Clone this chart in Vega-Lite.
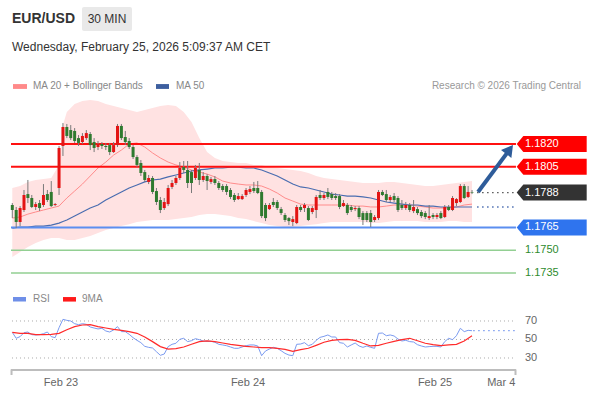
{
"$schema": "https://vega.github.io/schema/vega-lite/v6.json",
"width": 590, "height": 400,
"autosize": {"type": "fit", "contains": "padding"},
"padding": 0,
"background": "#f3f3f3",
"config": {"view": {"stroke": null, "fill": "#ffffff"}, "font": "Liberation Sans", "text": {"font": "Liberation Sans"}},
"datasets": {
"candles": [
{"t":-6.25,"o":1.17798,"h":1.17811,"l":1.17712,"c":1.17765},
{"t":-5.75,"o":1.17765,"h":1.17785,"l":1.17646,"c":1.17686},
{"t":-5.25,"o":1.17686,"h":1.17791,"l":1.17659,"c":1.17778},
{"t":-4.75,"o":1.17765,"h":1.17897,"l":1.17752,"c":1.17864},
{"t":-4.25,"o":1.17870,"h":1.17963,"l":1.17811,"c":1.17844},
{"t":-3.75,"o":1.17844,"h":1.17864,"l":1.17778,"c":1.17785},
{"t":-3.25,"o":1.17785,"h":1.17818,"l":1.17765,"c":1.17804},
{"t":-2.75,"o":1.17811,"h":1.17831,"l":1.17758,"c":1.17778},
{"t":-2.25,"o":1.17798,"h":1.17936,"l":1.17785,"c":1.17864},
{"t":-1.75,"o":1.17870,"h":1.17897,"l":1.17818,"c":1.17831},
{"t":-1.25,"o":1.17884,"h":1.17956,"l":1.17785,"c":1.17791},
{"t":-0.75,"o":1.17798,"h":1.17811,"l":1.17791,"c":1.17804},
{"t":-0.25,"o":1.17910,"h":1.18187,"l":1.17864,"c":1.18174},
{"t":0.25,"o":1.18187,"h":1.18338,"l":1.18121,"c":1.18312},
{"t":0.75,"o":1.18312,"h":1.18332,"l":1.18239,"c":1.18253},
{"t":1.25,"o":1.18292,"h":1.18325,"l":1.18226,"c":1.18239},
{"t":1.75,"o":1.18286,"h":1.18305,"l":1.18207,"c":1.18220},
{"t":2.25,"o":1.18239,"h":1.18259,"l":1.18187,"c":1.18207},
{"t":2.75,"o":1.18213,"h":1.18272,"l":1.18200,"c":1.18253},
{"t":3.25,"o":1.18239,"h":1.18292,"l":1.18226,"c":1.18272},
{"t":3.75,"o":1.18266,"h":1.18279,"l":1.18160,"c":1.18193},
{"t":4.25,"o":1.18213,"h":1.18239,"l":1.18147,"c":1.18174},
{"t":4.75,"o":1.18180,"h":1.18220,"l":1.18160,"c":1.18200},
{"t":5.25,"o":1.18200,"h":1.18213,"l":1.18167,"c":1.18187},
{"t":5.75,"o":1.18187,"h":1.18207,"l":1.18160,"c":1.18180},
{"t":6.25,"o":1.18193,"h":1.18207,"l":1.18127,"c":1.18147},
{"t":6.75,"o":1.18147,"h":1.18213,"l":1.18141,"c":1.18193},
{"t":7.25,"o":1.18193,"h":1.18332,"l":1.18180,"c":1.18319},
{"t":7.75,"o":1.18319,"h":1.18332,"l":1.18226,"c":1.18239},
{"t":8.25,"o":1.18246,"h":1.18286,"l":1.18193,"c":1.18213},
{"t":8.75,"o":1.18220,"h":1.18239,"l":1.18167,"c":1.18180},
{"t":9.25,"o":1.18180,"h":1.18193,"l":1.18101,"c":1.18114},
{"t":9.75,"o":1.18114,"h":1.18127,"l":1.18048,"c":1.18062},
{"t":10.25,"o":1.18075,"h":1.18094,"l":1.17989,"c":1.18009},
{"t":10.75,"o":1.18015,"h":1.18029,"l":1.17950,"c":1.17963},
{"t":11.25,"o":1.17950,"h":1.17996,"l":1.17936,"c":1.17976},
{"t":11.75,"o":1.17976,"h":1.17989,"l":1.17870,"c":1.17884},
{"t":12.25,"o":1.17890,"h":1.17910,"l":1.17798,"c":1.17818},
{"t":12.75,"o":1.17831,"h":1.17851,"l":1.17745,"c":1.17765},
{"t":13.25,"o":1.17778,"h":1.17844,"l":1.17765,"c":1.17818},
{"t":13.75,"o":1.17804,"h":1.17930,"l":1.17791,"c":1.17910},
{"t":14.25,"o":1.17917,"h":1.17963,"l":1.17903,"c":1.17943},
{"t":14.75,"o":1.17943,"h":1.17989,"l":1.17930,"c":1.17976},
{"t":15.25,"o":1.17976,"h":1.18081,"l":1.17963,"c":1.18042},
{"t":15.75,"o":1.18048,"h":1.18088,"l":1.18009,"c":1.18029},
{"t":16.25,"o":1.18029,"h":1.18088,"l":1.17910,"c":1.17943},
{"t":16.75,"o":1.18015,"h":1.18029,"l":1.17877,"c":1.17943},
{"t":17.25,"o":1.17976,"h":1.18062,"l":1.17963,"c":1.18042},
{"t":17.75,"o":1.18029,"h":1.18075,"l":1.17930,"c":1.17963},
{"t":18.25,"o":1.17963,"h":1.18015,"l":1.17950,"c":1.17989},
{"t":18.75,"o":1.17989,"h":1.18002,"l":1.17897,"c":1.17956},
{"t":19.25,"o":1.17950,"h":1.17983,"l":1.17936,"c":1.17969},
{"t":19.75,"o":1.17969,"h":1.17989,"l":1.17930,"c":1.17943},
{"t":20.25,"o":1.17943,"h":1.17956,"l":1.17897,"c":1.17910},
{"t":20.75,"o":1.17923,"h":1.17936,"l":1.17884,"c":1.17897},
{"t":21.25,"o":1.17923,"h":1.17936,"l":1.17864,"c":1.17884},
{"t":21.75,"o":1.17897,"h":1.17910,"l":1.17837,"c":1.17851},
{"t":22.25,"o":1.17864,"h":1.17877,"l":1.17818,"c":1.17831},
{"t":22.75,"o":1.17837,"h":1.17877,"l":1.17831,"c":1.17857},
{"t":23.25,"o":1.17837,"h":1.17870,"l":1.17831,"c":1.17857},
{"t":23.75,"o":1.17864,"h":1.17910,"l":1.17851,"c":1.17897},
{"t":24.25,"o":1.17884,"h":1.17923,"l":1.17870,"c":1.17903},
{"t":24.75,"o":1.17910,"h":1.17950,"l":1.17877,"c":1.17890},
{"t":25.25,"o":1.17910,"h":1.17956,"l":1.17870,"c":1.17877},
{"t":25.75,"o":1.17884,"h":1.17897,"l":1.17712,"c":1.17725},
{"t":26.25,"o":1.17798,"h":1.17811,"l":1.17692,"c":1.17712},
{"t":26.75,"o":1.17771,"h":1.17811,"l":1.17765,"c":1.17798},
{"t":27.25,"o":1.17818,"h":1.17844,"l":1.17785,"c":1.17798},
{"t":27.75,"o":1.17818,"h":1.17831,"l":1.17765,"c":1.17778},
{"t":28.25,"o":1.17771,"h":1.17785,"l":1.17732,"c":1.17745},
{"t":28.75,"o":1.17732,"h":1.17745,"l":1.17686,"c":1.17699},
{"t":29.25,"o":1.17712,"h":1.17719,"l":1.17666,"c":1.17692},
{"t":29.75,"o":1.17686,"h":1.17725,"l":1.17659,"c":1.17705},
{"t":30.25,"o":1.17679,"h":1.17798,"l":1.17672,"c":1.17785},
{"t":30.75,"o":1.17785,"h":1.17798,"l":1.17752,"c":1.17765},
{"t":31.25,"o":1.17778,"h":1.17811,"l":1.17752,"c":1.17798},
{"t":31.75,"o":1.17778,"h":1.17791,"l":1.17692,"c":1.17699},
{"t":32.25,"o":1.17752,"h":1.17791,"l":1.17738,"c":1.17778},
{"t":32.75,"o":1.17765,"h":1.17864,"l":1.17712,"c":1.17851},
{"t":33.25,"o":1.17864,"h":1.17897,"l":1.17831,"c":1.17844},
{"t":33.75,"o":1.17844,"h":1.17877,"l":1.17831,"c":1.17864},
{"t":34.25,"o":1.17884,"h":1.17910,"l":1.17837,"c":1.17851},
{"t":34.75,"o":1.17870,"h":1.17884,"l":1.17831,"c":1.17844},
{"t":35.25,"o":1.17857,"h":1.17877,"l":1.17831,"c":1.17844},
{"t":35.75,"o":1.17857,"h":1.17870,"l":1.17771,"c":1.17785},
{"t":36.25,"o":1.17791,"h":1.17831,"l":1.17785,"c":1.17811},
{"t":36.75,"o":1.17798,"h":1.17811,"l":1.17732,"c":1.17745},
{"t":37.25,"o":1.17785,"h":1.17798,"l":1.17752,"c":1.17765},
{"t":37.75,"o":1.17771,"h":1.17791,"l":1.17758,"c":1.17778},
{"t":38.25,"o":1.17778,"h":1.17791,"l":1.17705,"c":1.17719},
{"t":38.75,"o":1.17745,"h":1.17758,"l":1.17666,"c":1.17699},
{"t":39.25,"o":1.17745,"h":1.17758,"l":1.17686,"c":1.17699},
{"t":39.75,"o":1.17745,"h":1.17765,"l":1.17653,"c":1.17686},
{"t":40.25,"o":1.17699,"h":1.17732,"l":1.17686,"c":1.17719},
{"t":40.75,"o":1.17712,"h":1.17897,"l":1.17699,"c":1.17884},
{"t":41.25,"o":1.17884,"h":1.17897,"l":1.17857,"c":1.17864},
{"t":41.75,"o":1.17870,"h":1.17897,"l":1.17818,"c":1.17831},
{"t":42.25,"o":1.17831,"h":1.17864,"l":1.17818,"c":1.17851},
{"t":42.75,"o":1.17857,"h":1.17877,"l":1.17818,"c":1.17831},
{"t":43.25,"o":1.17844,"h":1.17857,"l":1.17752,"c":1.17765},
{"t":43.75,"o":1.17798,"h":1.17831,"l":1.17765,"c":1.17778},
{"t":44.25,"o":1.17778,"h":1.17818,"l":1.17765,"c":1.17798},
{"t":44.75,"o":1.17798,"h":1.17811,"l":1.17752,"c":1.17765},
{"t":45.25,"o":1.17758,"h":1.17831,"l":1.17745,"c":1.17785},
{"t":45.75,"o":1.17771,"h":1.17785,"l":1.17732,"c":1.17745},
{"t":46.25,"o":1.17752,"h":1.17765,"l":1.17712,"c":1.17725},
{"t":46.75,"o":1.17745,"h":1.17758,"l":1.17705,"c":1.17719},
{"t":47.25,"o":1.17712,"h":1.17798,"l":1.17699,"c":1.17725},
{"t":47.75,"o":1.17732,"h":1.17745,"l":1.17705,"c":1.17719},
{"t":48.25,"o":1.17719,"h":1.17745,"l":1.17705,"c":1.17732},
{"t":48.75,"o":1.17745,"h":1.17758,"l":1.17705,"c":1.17712},
{"t":49.25,"o":1.17719,"h":1.17798,"l":1.17712,"c":1.17785},
{"t":49.75,"o":1.17785,"h":1.17798,"l":1.17758,"c":1.17765},
{"t":50.25,"o":1.17765,"h":1.17857,"l":1.17758,"c":1.17844},
{"t":50.75,"o":1.17811,"h":1.17844,"l":1.17791,"c":1.17837},
{"t":51.25,"o":1.17818,"h":1.17936,"l":1.17811,"c":1.17923},
{"t":51.75,"o":1.17923,"h":1.17936,"l":1.17837,"c":1.17844},
{"t":52.25,"o":1.17851,"h":1.17923,"l":1.17844,"c":1.17884},
{"t":52.75,"o":1.17884,"h":1.17897,"l":1.17870,"c":1.17880}
],
"ind": [
{"t":-6.25,"up":1.17910,"lo":1.17455,"ma20":1.17712,"ma50":1.17646},
{"t":-5.25,"up":1.17923,"lo":1.17488,"ma20":1.17719,"ma50":1.17653},
{"t":-4.25,"up":1.17950,"lo":1.17521,"ma20":1.17738,"ma50":1.17653},
{"t":-3.25,"up":1.17963,"lo":1.17548,"ma20":1.17752,"ma50":1.17659},
{"t":-2.25,"up":1.17969,"lo":1.17567,"ma20":1.17765,"ma50":1.17659},
{"t":-1.25,"up":1.17976,"lo":1.17581,"ma20":1.17778,"ma50":1.17666},
{"t":-0.25,"up":1.18062,"lo":1.17581,"ma20":1.17791,"ma50":1.17679},
{"t":0.25,"up":1.18325,"lo":1.17574,"ma20":1.17818,"ma50":1.17689},
{"t":0.75,"up":1.18411,"lo":1.17567,"ma20":1.17844,"ma50":1.17699},
{"t":1.75,"up":1.18464,"lo":1.17567,"ma20":1.17890,"ma50":1.17725},
{"t":2.75,"up":1.18483,"lo":1.17581,"ma20":1.17936,"ma50":1.17752},
{"t":3.75,"up":1.18490,"lo":1.17594,"ma20":1.17989,"ma50":1.17778},
{"t":4.75,"up":1.18483,"lo":1.17614,"ma20":1.18042,"ma50":1.17798},
{"t":5.75,"up":1.18464,"lo":1.17633,"ma20":1.18081,"ma50":1.17831},
{"t":6.75,"up":1.18450,"lo":1.17646,"ma20":1.18127,"ma50":1.17857},
{"t":7.75,"up":1.18437,"lo":1.17659,"ma20":1.18160,"ma50":1.17884},
{"t":8.75,"up":1.18424,"lo":1.17672,"ma20":1.18200,"ma50":1.17910},
{"t":9.75,"up":1.18411,"lo":1.17686,"ma20":1.18207,"ma50":1.17930},
{"t":10.75,"up":1.18424,"lo":1.17692,"ma20":1.18180,"ma50":1.17950},
{"t":11.75,"up":1.18437,"lo":1.17699,"ma20":1.18141,"ma50":1.17963},
{"t":12.75,"up":1.18450,"lo":1.17699,"ma20":1.18108,"ma50":1.17969},
{"t":13.75,"up":1.18457,"lo":1.17699,"ma20":1.18081,"ma50":1.17983},
{"t":14.75,"up":1.18450,"lo":1.17705,"ma20":1.18062,"ma50":1.17996},
{"t":15.75,"up":1.18411,"lo":1.17712,"ma20":1.18048,"ma50":1.18009},
{"t":16.75,"up":1.18345,"lo":1.17719,"ma20":1.18029,"ma50":1.18022},
{"t":17.75,"up":1.18239,"lo":1.17732,"ma20":1.18015,"ma50":1.18029},
{"t":18.75,"up":1.18147,"lo":1.17738,"ma20":1.18002,"ma50":1.18035},
{"t":19.75,"up":1.18108,"lo":1.17738,"ma20":1.17983,"ma50":1.18042},
{"t":20.75,"up":1.18088,"lo":1.17732,"ma20":1.17956,"ma50":1.18042},
{"t":21.75,"up":1.18081,"lo":1.17725,"ma20":1.17943,"ma50":1.18048},
{"t":22.75,"up":1.18075,"lo":1.17712,"ma20":1.17936,"ma50":1.18048},
{"t":23.75,"up":1.18075,"lo":1.17705,"ma20":1.17930,"ma50":1.18042},
{"t":24.75,"up":1.18062,"lo":1.17692,"ma20":1.17930,"ma50":1.18042},
{"t":25.75,"up":1.18062,"lo":1.17679,"ma20":1.17923,"ma50":1.18029},
{"t":26.75,"up":1.18048,"lo":1.17666,"ma20":1.17903,"ma50":1.18009},
{"t":27.75,"up":1.18042,"lo":1.17659,"ma20":1.17877,"ma50":1.17989},
{"t":28.75,"up":1.18035,"lo":1.17653,"ma20":1.17844,"ma50":1.17963},
{"t":29.75,"up":1.18029,"lo":1.17653,"ma20":1.17824,"ma50":1.17936},
{"t":30.75,"up":1.18022,"lo":1.17659,"ma20":1.17804,"ma50":1.17917},
{"t":31.75,"up":1.18009,"lo":1.17666,"ma20":1.17798,"ma50":1.17910},
{"t":32.75,"up":1.17989,"lo":1.17672,"ma20":1.17798,"ma50":1.17897},
{"t":33.75,"up":1.17976,"lo":1.17679,"ma20":1.17798,"ma50":1.17884},
{"t":34.75,"up":1.17969,"lo":1.17686,"ma20":1.17798,"ma50":1.17870},
{"t":35.75,"up":1.17963,"lo":1.17686,"ma20":1.17798,"ma50":1.17864},
{"t":36.75,"up":1.17956,"lo":1.17686,"ma20":1.17798,"ma50":1.17857},
{"t":37.75,"up":1.17950,"lo":1.17686,"ma20":1.17791,"ma50":1.17857},
{"t":38.75,"up":1.17943,"lo":1.17686,"ma20":1.17791,"ma50":1.17851},
{"t":39.75,"up":1.17943,"lo":1.17679,"ma20":1.17785,"ma50":1.17844},
{"t":40.75,"up":1.17943,"lo":1.17679,"ma20":1.17785,"ma50":1.17831},
{"t":41.75,"up":1.17950,"lo":1.17686,"ma20":1.17791,"ma50":1.17818},
{"t":42.75,"up":1.17950,"lo":1.17692,"ma20":1.17798,"ma50":1.17811},
{"t":43.75,"up":1.17943,"lo":1.17692,"ma20":1.17798,"ma50":1.17804},
{"t":44.75,"up":1.17936,"lo":1.17692,"ma20":1.17798,"ma50":1.17798},
{"t":45.75,"up":1.17930,"lo":1.17692,"ma20":1.17791,"ma50":1.17798},
{"t":46.75,"up":1.17923,"lo":1.17686,"ma20":1.17785,"ma50":1.17791},
{"t":47.75,"up":1.17923,"lo":1.17686,"ma20":1.17778,"ma50":1.17791},
{"t":48.75,"up":1.17930,"lo":1.17686,"ma20":1.17778,"ma50":1.17785},
{"t":49.75,"up":1.17936,"lo":1.17692,"ma20":1.17778,"ma50":1.17785},
{"t":50.75,"up":1.17943,"lo":1.17692,"ma20":1.17785,"ma50":1.17785},
{"t":51.75,"up":1.17950,"lo":1.17686,"ma20":1.17798,"ma50":1.17785},
{"t":52.75,"up":1.17956,"lo":1.17686,"ma20":1.17804,"ma50":1.17785}
],
"rsi": [
{"t":-6.25,"rsi":57.7},{"t":-5.75,"rsi":51.3},{"t":-5.25,"rsi":53.1},{"t":-4.75,"rsi":57.4},{"t":-4.25,"rsi":58.1},
{"t":-3.75,"rsi":55.2},{"t":-3.25,"rsi":54.9},{"t":-2.75,"rsi":55.2},{"t":-2.25,"rsi":56.3},{"t":-1.75,"rsi":58.1},
{"t":-1.25,"rsi":53.1},{"t":-0.75,"rsi":52.0},{"t":-0.25,"rsi":62.8},{"t":0.25,"rsi":71.8},{"t":0.75,"rsi":70.7},
{"t":1.25,"rsi":70.0},{"t":1.75,"rsi":67.1},{"t":2.25,"rsi":66.0},{"t":2.75,"rsi":67.1},{"t":3.25,"rsi":66.4},
{"t":3.75,"rsi":63.5},{"t":4.25,"rsi":62.4},{"t":4.75,"rsi":61.4},{"t":5.25,"rsi":62.1},{"t":5.75,"rsi":59.2},
{"t":6.25,"rsi":58.1},{"t":6.75,"rsi":60.3},{"t":7.25,"rsi":63.9},{"t":7.75,"rsi":58.5},{"t":8.25,"rsi":58.5},
{"t":8.75,"rsi":55.6},{"t":9.25,"rsi":52.0},{"t":9.75,"rsi":49.1},{"t":10.25,"rsi":46.6},{"t":10.75,"rsi":42.6},
{"t":11.25,"rsi":41.5},{"t":11.75,"rsi":40.8},{"t":12.25,"rsi":36.8},{"t":12.75,"rsi":32.9},{"t":13.25,"rsi":34.3},
{"t":13.75,"rsi":42.3},{"t":14.25,"rsi":44.8},{"t":14.75,"rsi":45.9},{"t":15.25,"rsi":50.2},{"t":15.75,"rsi":51.3},
{"t":16.25,"rsi":47.7},{"t":16.75,"rsi":48.7},{"t":17.25,"rsi":50.9},{"t":17.75,"rsi":49.8},{"t":18.25,"rsi":48.4},
{"t":18.75,"rsi":48.0},{"t":19.25,"rsi":48.0},{"t":19.75,"rsi":47.0},{"t":20.25,"rsi":44.8},{"t":20.75,"rsi":44.1},
{"t":21.25,"rsi":43.3},{"t":21.75,"rsi":41.9},{"t":22.25,"rsi":40.5},{"t":22.75,"rsi":40.5},{"t":23.25,"rsi":41.9},
{"t":23.75,"rsi":43.3},{"t":24.25,"rsi":44.1},{"t":24.75,"rsi":44.1},{"t":25.25,"rsi":43.0},{"t":25.75,"rsi":32.5},
{"t":26.25,"rsi":37.6},{"t":26.75,"rsi":39.7},{"t":27.25,"rsi":41.5},{"t":27.75,"rsi":40.5},{"t":28.25,"rsi":37.9},
{"t":28.75,"rsi":35.0},{"t":29.25,"rsi":33.2},{"t":29.75,"rsi":32.5},{"t":30.25,"rsi":44.8},{"t":30.75,"rsi":45.1},
{"t":31.25,"rsi":46.6},{"t":31.75,"rsi":43.3},{"t":32.25,"rsi":44.8},{"t":32.75,"rsi":49.1},{"t":33.25,"rsi":52.3},
{"t":33.75,"rsi":53.4},{"t":34.25,"rsi":54.9},{"t":34.75,"rsi":52.7},{"t":35.25,"rsi":52.7},{"t":35.75,"rsi":46.6},
{"t":36.25,"rsi":45.9},{"t":36.75,"rsi":41.9},{"t":37.25,"rsi":44.1},{"t":37.75,"rsi":46.2},{"t":38.25,"rsi":43.0},
{"t":38.75,"rsi":41.5},{"t":39.25,"rsi":43.0},{"t":39.75,"rsi":41.5},{"t":40.25,"rsi":40.5},{"t":40.75,"rsi":56.7},
{"t":41.25,"rsi":57.0},{"t":41.75,"rsi":54.1},{"t":42.25,"rsi":54.9},{"t":42.75,"rsi":53.8},{"t":43.25,"rsi":50.5},
{"t":43.75,"rsi":48.4},{"t":44.25,"rsi":49.1},{"t":44.75,"rsi":47.7},{"t":45.25,"rsi":47.3},{"t":45.75,"rsi":44.4},
{"t":46.25,"rsi":43.0},{"t":46.75,"rsi":41.9},{"t":47.25,"rsi":42.3},{"t":47.75,"rsi":42.6},{"t":48.25,"rsi":42.6},
{"t":48.75,"rsi":41.9},{"t":49.25,"rsi":47.7},{"t":49.75,"rsi":51.3},{"t":50.25,"rsi":49.8},{"t":50.75,"rsi":54.1},
{"t":51.25,"rsi":62.1},{"t":51.75,"rsi":58.5},{"t":52.25,"rsi":59.9},{"t":52.75,"rsi":59.5}
],
"ma9": [
{"t":-6.25,"v":57.7},{"t":-5.25,"v":56.7},{"t":-4.25,"v":56.7},{"t":-3.25,"v":55.2},{"t":-2.25,"v":55.2},
{"t":-1.25,"v":55.6},{"t":-0.25,"v":56.7},{"t":0.75,"v":60.6},{"t":1.75,"v":63.9},{"t":2.75,"v":65.7},
{"t":3.75,"v":66.0},{"t":4.75,"v":63.9},{"t":5.75,"v":62.4},{"t":6.75,"v":61.0},{"t":7.75,"v":59.9},
{"t":8.75,"v":58.5},{"t":9.75,"v":56.7},{"t":10.75,"v":52.7},{"t":11.75,"v":47.7},{"t":12.75,"v":42.3},
{"t":13.75,"v":39.7},{"t":14.75,"v":40.1},{"t":15.75,"v":41.9},{"t":16.75,"v":44.8},{"t":17.75,"v":47.7},
{"t":18.75,"v":48.4},{"t":19.75,"v":47.7},{"t":20.75,"v":46.2},{"t":21.75,"v":44.8},{"t":22.75,"v":43.7},
{"t":23.75,"v":42.6},{"t":24.75,"v":41.9},{"t":25.75,"v":41.2},{"t":26.75,"v":41.2},{"t":27.75,"v":40.5},
{"t":28.75,"v":39.4},{"t":29.75,"v":37.2},{"t":30.75,"v":39.0},{"t":31.75,"v":40.5},{"t":32.75,"v":43.7},
{"t":33.75,"v":47.0},{"t":34.75,"v":49.1},{"t":35.75,"v":49.8},{"t":36.75,"v":50.2},{"t":37.75,"v":49.1},
{"t":38.75,"v":45.9},{"t":39.75,"v":43.0},{"t":40.75,"v":43.7},{"t":41.75,"v":45.9},{"t":42.75,"v":48.0},
{"t":43.75,"v":49.8},{"t":44.75,"v":51.3},{"t":45.75,"v":48.7},{"t":46.75,"v":45.9},{"t":47.75,"v":44.4},
{"t":48.75,"v":43.3},{"t":49.75,"v":44.1},{"t":50.75,"v":44.8},{"t":51.75,"v":48.4},{"t":52.75,"v":54.0}
],
"levels": [
{"level":1.1820,"label":"1.1820","kind":"resistance"},
{"level":1.1805,"label":"1.1805","kind":"resistance"},
{"level":1.1788,"label":"1.1788","kind":"last"},
{"level":1.1765,"label":"1.1765","kind":"support"},
{"level":1.1750,"label":"1.1750","kind":"support2"},
{"level":1.1735,"label":"1.1735","kind":"support2"}
],
"proj": [
{"series":"last","p":1.1788},
{"series":"ma50","p":1.17785}
],
"arrow": [
{"t":53.52,"p":1.17884},
{"t":57.31,"p":1.18145}
],
"arrowhead": [{"t":57.57,"p":1.18164}],
"rsigrid": [{"v":70},{"v":50},{"v":30}],
"dates": [
{"t":0,"label":"Feb 23"},
{"t":24,"label":"Feb 24"},
{"t":48,"label":"Feb 25"},
{"t":56.5,"label":"Mar 4"}
],
"one": [{}]
},
"resolve": {"scale": {"y": "independent"}},
"layer": [
{
"layer": [
{"data": {"name": "ind"}, "mark": {"type": "area", "color": "#ffe2e2"},
 "encoding": {"x": {"field": "t", "type": "quantitative", "scale": {"domain": [-7.187, 67.25], "nice": false, "zero": false}, "axis": null},
  "y": {"field": "up", "type": "quantitative", "scale": {"domain": [1.16513, 1.19149], "nice": false, "zero": false}, "axis": null}, "y2": {"field": "lo"}}},
{"data": {"name": "ind"}, "mark": {"type": "line", "color": "#ff8c8c", "strokeWidth": 1},
 "encoding": {"x": {"field": "t", "type": "quantitative", "scale": {"domain": [-7.187, 67.25], "nice": false, "zero": false}, "axis": null},
  "y": {"field": "ma20", "type": "quantitative", "scale": {"domain": [1.16513, 1.19149], "nice": false, "zero": false}, "axis": null}}},
{"data": {"name": "ind"}, "mark": {"type": "line", "color": "#4a6db0", "strokeWidth": 1.2},
 "encoding": {"x": {"field": "t", "type": "quantitative", "scale": {"domain": [-7.187, 67.25], "nice": false, "zero": false}, "axis": null},
  "y": {"field": "ma50", "type": "quantitative", "scale": {"domain": [1.16513, 1.19149], "nice": false, "zero": false}, "axis": null}}},
{"data": {"name": "levels"}, "transform": [{"filter": "datum.kind !== 'last'"}], "mark": {"type": "rule"},
 "encoding": {"x": {"datum": -6.417, "type": "quantitative", "scale": {"domain": [-7.187, 67.25], "nice": false, "zero": false}, "axis": null}, "x2": {"datum": 58.39},
  "y": {"field": "level", "type": "quantitative", "scale": {"domain": [1.16513, 1.19149], "nice": false, "zero": false}, "axis": null},
  "color": {"condition": [{"test": "datum.kind === 'resistance'", "value": "#ff1010"}, {"test": "datum.kind === 'support'", "value": "#5b8ef0"}], "value": "#92cf92"},
  "strokeWidth": {"condition": {"test": "datum.kind === 'support2'", "value": 1.3}, "value": 2}}},
{"data": {"name": "proj"}, "mark": {"type": "rule", "strokeDash": [1.5, 3.5], "strokeWidth": 1.3},
 "encoding": {"x": {"datum": 53.4, "type": "quantitative", "scale": {"domain": [-7.187, 67.25], "nice": false, "zero": false}, "axis": null}, "x2": {"datum": 58.27},
  "y": {"field": "p", "type": "quantitative", "scale": {"domain": [1.16513, 1.19149], "nice": false, "zero": false}, "axis": null},
  "color": {"condition": {"test": "datum.series === 'last'", "value": "#555555"}, "value": "#4a6db0"}}},
{"data": {"name": "candles"}, "mark": {"type": "rule", "color": "#7a7a7a", "strokeWidth": 1},
 "encoding": {"x": {"field": "t", "type": "quantitative", "scale": {"domain": [-7.187, 67.25], "nice": false, "zero": false}, "axis": null},
  "y": {"field": "l", "type": "quantitative", "scale": {"domain": [1.16513, 1.19149], "nice": false, "zero": false}, "axis": null}, "y2": {"field": "h"}}},
{"data": {"name": "candles"}, "mark": {"type": "bar", "size": 3},
 "encoding": {"x": {"field": "t", "type": "quantitative", "scale": {"domain": [-7.187, 67.25], "nice": false, "zero": false}, "axis": null},
  "y": {"field": "o", "type": "quantitative", "scale": {"domain": [1.16513, 1.19149], "nice": false, "zero": false}, "axis": null}, "y2": {"field": "c"},
  "color": {"condition": {"test": "datum.c >= datum.o", "value": "#e31414"}, "value": "#2f7a2f"}}},
{"data": {"name": "levels"}, "transform": [{"filter": "datum.kind !== 'support2'"}],
 "mark": {"type": "point", "filled": true, "opacity": 1, "size": 4900, "shape": "M-1,0L-0.81,-0.2286L1,-0.2286L1,0.2286L-0.81,0.2286Z"},
 "encoding": {"x": {"datum": 62.977, "type": "quantitative", "scale": {"domain": [-7.187, 67.25], "nice": false, "zero": false}, "axis": null},
  "y": {"field": "level", "type": "quantitative", "scale": {"domain": [1.16513, 1.19149], "nice": false, "zero": false}, "axis": null},
  "color": {"condition": [{"test": "datum.kind === 'last'", "value": "#333333"}, {"test": "datum.kind === 'support'", "value": "#2f74ee"}], "value": "#ff0000"}}},
{"data": {"name": "levels"}, "mark": {"type": "text", "align": "left", "baseline": "middle", "fontSize": 11},
 "encoding": {"x": {"datum": 59.55, "type": "quantitative", "scale": {"domain": [-7.187, 67.25], "nice": false, "zero": false}, "axis": null},
  "y": {"field": "level", "type": "quantitative", "scale": {"domain": [1.16513, 1.19149], "nice": false, "zero": false}, "axis": null},
  "text": {"field": "label"},
  "color": {"condition": {"test": "datum.kind === 'support2'", "value": "#2e8b2e"}, "value": "#ffffff"}}},
{"data": {"name": "arrow"}, "mark": {"type": "line", "color": "#2e5c9a", "strokeWidth": 4, "strokeCap": "butt"},
 "encoding": {"x": {"field": "t", "type": "quantitative", "scale": {"domain": [-7.187, 67.25], "nice": false, "zero": false}, "axis": null},
  "y": {"field": "p", "type": "quantitative", "scale": {"domain": [1.16513, 1.19149], "nice": false, "zero": false}, "axis": null}}},
{"data": {"name": "arrowhead"}, "mark": {"type": "point", "shape": "triangle-up", "filled": true, "opacity": 1, "size": 170, "angle": 37, "color": "#2e5c9a"},
 "encoding": {"x": {"field": "t", "type": "quantitative", "scale": {"domain": [-7.187, 67.25], "nice": false, "zero": false}, "axis": null},
  "y": {"field": "p", "type": "quantitative", "scale": {"domain": [1.16513, 1.19149], "nice": false, "zero": false}, "axis": null}}},
{"data": {"name": "one"}, "mark": {"type": "rect", "color": "#e9e9e9", "cornerRadius": 2},
 "encoding": {"x": {"datum": 2.695, "type": "quantitative", "scale": {"domain": [-7.187, 67.25], "nice": false, "zero": false}, "axis": null}, "x2": {"datum": 9.112},
  "y": {"datum": 1.19103, "type": "quantitative", "scale": {"domain": [1.16513, 1.19149], "nice": false, "zero": false}, "axis": null}, "y2": {"datum": 1.18945}}},
{"data": {"name": "one"}, "mark": {"type": "text", "align": "left", "baseline": "middle", "fontSize": 14, "fontWeight": "bold", "color": "#333333"},
 "encoding": {"x": {"datum": -6.289, "type": "quantitative", "scale": {"domain": [-7.187, 67.25], "nice": false, "zero": false}, "axis": null},
  "y": {"datum": 1.19024, "type": "quantitative", "scale": {"domain": [1.16513, 1.19149], "nice": false, "zero": false}, "axis": null},
  "text": {"value": "EUR/USD"}}},
{"data": {"name": "one"}, "mark": {"type": "text", "align": "center", "baseline": "middle", "fontSize": 12, "color": "#333333"},
 "encoding": {"x": {"datum": 5.904, "type": "quantitative", "scale": {"domain": [-7.187, 67.25], "nice": false, "zero": false}, "axis": null},
  "y": {"datum": 1.19024, "type": "quantitative", "scale": {"domain": [1.16513, 1.19149], "nice": false, "zero": false}, "axis": null},
  "text": {"value": "30 MIN"}}},
{"data": {"name": "one"}, "mark": {"type": "text", "align": "left", "baseline": "middle", "fontSize": 12, "color": "#333333"},
 "encoding": {"x": {"datum": -6.289, "type": "quantitative", "scale": {"domain": [-7.187, 67.25], "nice": false, "zero": false}, "axis": null},
  "y": {"datum": 1.18839, "type": "quantitative", "scale": {"domain": [1.16513, 1.19149], "nice": false, "zero": false}, "axis": null},
  "text": {"value": "Wednesday, February 25, 2026 5:09:37 AM CET"}}},
{"data": {"name": "one"}, "mark": {"type": "rect", "color": "#ff8a8a"},
 "encoding": {"x": {"datum": -6.16, "type": "quantitative", "scale": {"domain": [-7.187, 67.25], "nice": false, "zero": false}, "axis": null}, "x2": {"datum": -4.364},
  "y": {"datum": 1.18595, "type": "quantitative", "scale": {"domain": [1.16513, 1.19149], "nice": false, "zero": false}, "axis": null}, "y2": {"datum": 1.18563}}},
{"data": {"name": "one"}, "mark": {"type": "text", "align": "left", "baseline": "middle", "fontSize": 10, "color": "#888888"},
 "encoding": {"x": {"datum": -3.594, "type": "quantitative", "scale": {"domain": [-7.187, 67.25], "nice": false, "zero": false}, "axis": null},
  "y": {"datum": 1.18579, "type": "quantitative", "scale": {"domain": [1.16513, 1.19149], "nice": false, "zero": false}, "axis": null},
  "text": {"value": "MA 20 + Bollinger Bands"}}},
{"data": {"name": "one"}, "mark": {"type": "rect", "color": "#3d5f9f"},
 "encoding": {"x": {"datum": 12.192, "type": "quantitative", "scale": {"domain": [-7.187, 67.25], "nice": false, "zero": false}, "axis": null}, "x2": {"datum": 13.861},
  "y": {"datum": 1.18595, "type": "quantitative", "scale": {"domain": [1.16513, 1.19149], "nice": false, "zero": false}, "axis": null}, "y2": {"datum": 1.18563}}},
{"data": {"name": "one"}, "mark": {"type": "text", "align": "left", "baseline": "middle", "fontSize": 10, "color": "#888888"},
 "encoding": {"x": {"datum": 14.759, "type": "quantitative", "scale": {"domain": [-7.187, 67.25], "nice": false, "zero": false}, "axis": null},
  "y": {"datum": 1.18579, "type": "quantitative", "scale": {"domain": [1.16513, 1.19149], "nice": false, "zero": false}, "axis": null},
  "text": {"value": "MA 50"}}},
{"data": {"name": "one"}, "mark": {"type": "text", "align": "right", "baseline": "middle", "fontSize": 10, "color": "#999999"},
 "encoding": {"x": {"datum": 66.74, "type": "quantitative", "scale": {"domain": [-7.187, 67.25], "nice": false, "zero": false}, "axis": null},
  "y": {"datum": 1.18579, "type": "quantitative", "scale": {"domain": [1.16513, 1.19149], "nice": false, "zero": false}, "axis": null},
  "text": {"value": "Research © 2026 Trading Central"}}}
]
},
{
"layer": [
{"data": {"name": "rsigrid"}, "mark": {"type": "rule", "strokeDash": [1, 3], "color": "#aaaaaa", "strokeWidth": 1},
 "encoding": {"x": {"datum": -6.289, "type": "quantitative", "scale": {"domain": [-7.187, 67.25], "nice": false, "zero": false}, "axis": null}, "x2": {"datum": 58.39},
  "y": {"field": "v", "type": "quantitative", "scale": {"domain": [-15.41, 417.03], "nice": false, "zero": false}, "axis": null}}},
{"data": {"name": "rsigrid"}, "mark": {"type": "text", "align": "left", "baseline": "middle", "fontSize": 11, "color": "#666666"},
 "encoding": {"x": {"datum": 59.55, "type": "quantitative", "scale": {"domain": [-7.187, 67.25], "nice": false, "zero": false}, "axis": null},
  "y": {"field": "v", "type": "quantitative", "scale": {"domain": [-15.41, 417.03], "nice": false, "zero": false}, "axis": null},
  "text": {"field": "v"}}},
{"data": {"name": "rsi"}, "mark": {"type": "line", "color": "#7b9bf0", "strokeWidth": 1},
 "encoding": {"x": {"field": "t", "type": "quantitative", "scale": {"domain": [-7.187, 67.25], "nice": false, "zero": false}, "axis": null},
  "y": {"field": "rsi", "type": "quantitative", "scale": {"domain": [-15.41, 417.03], "nice": false, "zero": false}, "axis": null}}},
{"data": {"name": "ma9"}, "mark": {"type": "line", "color": "#ff2b2b", "strokeWidth": 1.2},
 "encoding": {"x": {"field": "t", "type": "quantitative", "scale": {"domain": [-7.187, 67.25], "nice": false, "zero": false}, "axis": null},
  "y": {"field": "v", "type": "quantitative", "scale": {"domain": [-15.41, 417.03], "nice": false, "zero": false}, "axis": null}}},
{"data": {"name": "one"}, "mark": {"type": "rule", "strokeDash": [1.5, 3.5], "color": "#7b9bf0", "strokeWidth": 1.3},
 "encoding": {"x": {"datum": 52.9, "type": "quantitative", "scale": {"domain": [-7.187, 67.25], "nice": false, "zero": false}, "axis": null}, "x2": {"datum": 58.27},
  "y": {"datum": 59.5, "type": "quantitative", "scale": {"domain": [-15.41, 417.03], "nice": false, "zero": false}, "axis": null}}},
{"data": {"name": "one"}, "mark": {"type": "rule", "color": "#bdbdbd", "strokeWidth": 2},
 "encoding": {"x": {"datum": -6.417, "type": "quantitative", "scale": {"domain": [-7.187, 67.25], "nice": false, "zero": false}, "axis": null}, "x2": {"datum": 58.39},
  "y": {"datum": 17.03, "type": "quantitative", "scale": {"domain": [-15.41, 417.03], "nice": false, "zero": false}, "axis": null}}},
{"data": {"name": "one"}, "mark": {"type": "rule", "color": "#bdbdbd", "strokeWidth": 2},
 "encoding": {"x": {"datum": -6.35, "type": "quantitative", "scale": {"domain": [-7.187, 67.25], "nice": false, "zero": false}, "axis": null},
  "y": {"datum": 17.6, "type": "quantitative", "scale": {"domain": [-15.41, 417.03], "nice": false, "zero": false}, "axis": null}, "y2": {"datum": 11.62}}},
{"data": {"name": "one"}, "mark": {"type": "rule", "color": "#bdbdbd", "strokeWidth": 2},
 "encoding": {"x": {"datum": 58.33, "type": "quantitative", "scale": {"domain": [-7.187, 67.25], "nice": false, "zero": false}, "axis": null},
  "y": {"datum": 17.6, "type": "quantitative", "scale": {"domain": [-15.41, 417.03], "nice": false, "zero": false}, "axis": null}, "y2": {"datum": 11.62}}},
{"data": {"name": "dates"}, "mark": {"type": "text", "align": "center", "baseline": "middle", "fontSize": 11, "color": "#666666"},
 "encoding": {"x": {"field": "t", "type": "quantitative", "scale": {"domain": [-7.187, 67.25], "nice": false, "zero": false}, "axis": null},
  "y": {"datum": 3.5, "type": "quantitative", "scale": {"domain": [-15.41, 417.03], "nice": false, "zero": false}, "axis": null},
  "text": {"field": "label"}}},
{"data": {"name": "one"}, "mark": {"type": "rect", "color": "#6f8fe8"},
 "encoding": {"x": {"datum": -6.16, "type": "quantitative", "scale": {"domain": [-7.187, 67.25], "nice": false, "zero": false}, "axis": null}, "x2": {"datum": -4.492},
  "y": {"datum": 95.9, "type": "quantitative", "scale": {"domain": [-15.41, 417.03], "nice": false, "zero": false}, "axis": null}, "y2": {"datum": 91.0}}},
{"data": {"name": "one"}, "mark": {"type": "text", "align": "left", "baseline": "middle", "fontSize": 10, "color": "#888888"},
 "encoding": {"x": {"datum": -3.594, "type": "quantitative", "scale": {"domain": [-7.187, 67.25], "nice": false, "zero": false}, "axis": null},
  "y": {"datum": 93.8, "type": "quantitative", "scale": {"domain": [-15.41, 417.03], "nice": false, "zero": false}, "axis": null},
  "text": {"value": "RSI"}}},
{"data": {"name": "one"}, "mark": {"type": "rect", "color": "#ff1a1a"},
 "encoding": {"x": {"datum": 0.257, "type": "quantitative", "scale": {"domain": [-7.187, 67.25], "nice": false, "zero": false}, "axis": null}, "x2": {"datum": 1.925},
  "y": {"datum": 95.9, "type": "quantitative", "scale": {"domain": [-15.41, 417.03], "nice": false, "zero": false}, "axis": null}, "y2": {"datum": 91.0}}},
{"data": {"name": "one"}, "mark": {"type": "text", "align": "left", "baseline": "middle", "fontSize": 10, "color": "#888888"},
 "encoding": {"x": {"datum": 2.695, "type": "quantitative", "scale": {"domain": [-7.187, 67.25], "nice": false, "zero": false}, "axis": null},
  "y": {"datum": 93.8, "type": "quantitative", "scale": {"domain": [-15.41, 417.03], "nice": false, "zero": false}, "axis": null},
  "text": {"value": "9MA"}}}
]
}
]
}
